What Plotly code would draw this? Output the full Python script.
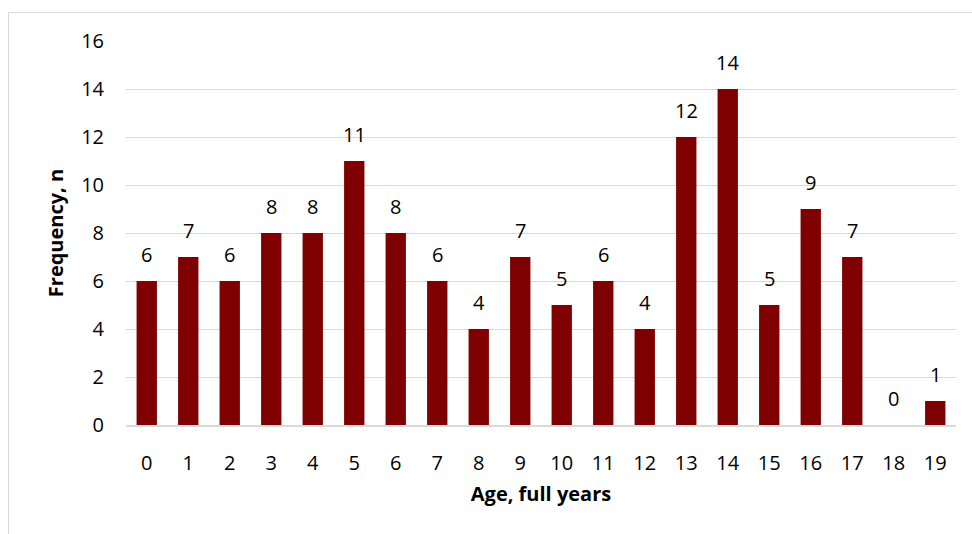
import plotly.graph_objects as go

# Age distribution (full years) and counts
ages = [str(a) for a in range(20)]
counts = [6, 7, 6, 8, 8, 11, 8, 6, 4, 7, 5, 6, 4, 12, 14, 5, 9, 7, 0, 1]
y_ticks = [0, 2, 4, 6, 8, 10, 12, 14, 16]

BAR_COLOR = "#7f0000"
GRID = "#d9d9d9"
FONT = "Open Sans"
TICK_SIZE = 20
TITLE_SIZE = 20

fig = go.Figure()
fig.add_trace(go.Bar(
    x=ages, y=counts,
    marker=dict(color=BAR_COLOR, line=dict(width=0)),
    width=0.49,
    hoverinfo="x+y",
))

# value labels above each bar
for a, c in zip(ages, counts):
    fig.add_annotation(
        x=a, y=c, text=str(c), showarrow=False,
        yanchor="bottom", yshift=11,
        font=dict(family=FONT, size=TICK_SIZE, color="#000000"),
    )

W, H = 972, 534
L, R, T, B = 126, 16, 41, 109
pw, ph = W - L - R, H - T - B

def px_x(p):
    return (p - L) / pw

def px_y(p):
    return (H - B - p) / ph

# outer chart frame (extends past the right and bottom edges)
fig.add_shape(
    type="rect", xref="paper", yref="paper",
    x0=px_x(8.5), x1=px_x(W + 10), y0=px_y(12.5), y1=px_y(H + 10),
    line=dict(color=GRID, width=1), fillcolor="rgba(0,0,0,0)", layer="below",
)

fig.update_layout(
    width=W, height=H,
    margin=dict(l=L, r=R, t=T, b=B, pad=0),
    paper_bgcolor="white", plot_bgcolor="white",
    showlegend=False,
    font=dict(family=FONT, size=TICK_SIZE, color="#000000"),
    bargap=0.51,
)
fig.update_xaxes(
    type="category", categoryorder="array", categoryarray=ages,
    showgrid=False, showline=True, linecolor=GRID, linewidth=1.5,
    ticks="", ticklabelstandoff=19,
    tickfont=dict(family=FONT, size=TICK_SIZE),
    title=dict(text="<b>Age, full years</b>", font=dict(family=FONT, size=TITLE_SIZE), standoff=12),
)
fig.update_yaxes(
    range=[0, 16], tickvals=y_ticks,
    showgrid=True, gridcolor=GRID, gridwidth=1,
    zeroline=False, showline=False,
    ticks="", ticklabelstandoff=21,
    tickfont=dict(family=FONT, size=TICK_SIZE),
    title=dict(text="<b>Frequency, n</b>", font=dict(family=FONT, size=TITLE_SIZE), standoff=12),
)

fig.write_html("out.html")
